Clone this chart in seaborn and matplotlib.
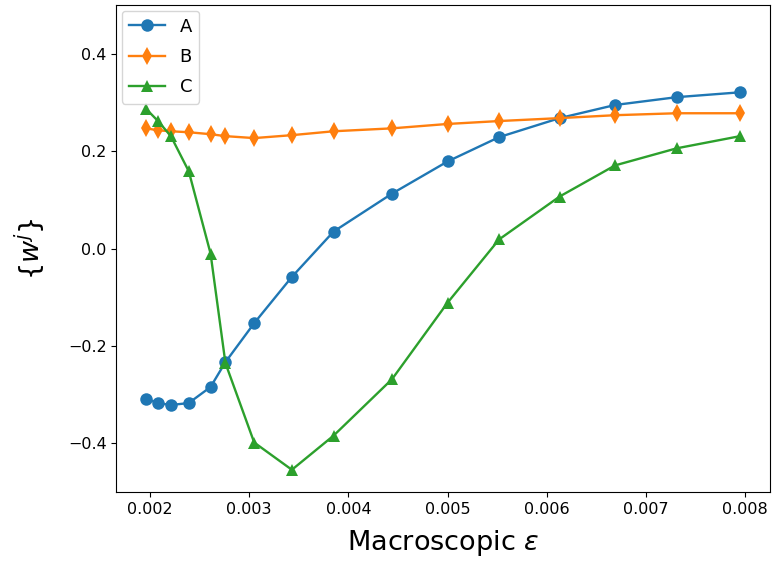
import numpy as np
import pandas as pd
import matplotlib
matplotlib.use("Agg")
import matplotlib.pyplot as plt
import seaborn as sns

# strain values (x)
eps = [0.00196, 0.00208, 0.00221, 0.00239, 0.00261, 0.00276, 0.00305, 0.00343,
       0.00385, 0.00444, 0.00500, 0.00552, 0.00613, 0.00669, 0.00731, 0.00795]

w_A = [-0.308, -0.317, -0.321, -0.317, -0.284, -0.233, -0.153, -0.058,
       0.035, 0.113, 0.179, 0.229, 0.268, 0.295, 0.311, 0.321]
w_B = [0.247, 0.243, 0.241, 0.239, 0.235, 0.231, 0.227, 0.233,
       0.241, 0.247, 0.256, 0.262, 0.268, 0.274, 0.278, 0.278]
w_C = [0.287, 0.262, 0.231, 0.159, -0.010, -0.235, -0.398, -0.454,
       -0.384, -0.268, -0.111, 0.019, 0.107, 0.171, 0.206, 0.231]

df = pd.DataFrame({
    "eps": eps * 3,
    "w": w_A + w_B + w_C,
    "series": ["A"] * len(eps) + ["B"] * len(eps) + ["C"] * len(eps),
})

fig, ax = plt.subplots(figsize=(7.76, 5.69), dpi=100)
sns.lineplot(data=df, x="eps", y="w", hue="series", style="series",
             markers={"A": "o", "B": "d", "C": "^"}, dashes=False,
             markersize=9, markeredgewidth=0, linewidth=1.7,
             palette=["C0", "C1", "C2"], ax=ax)

ax.set_ylim(-0.5, 0.5)
ax.set_yticks([-0.4, -0.2, 0.0, 0.2, 0.4])
ax.set_xticks([0.002, 0.003, 0.004, 0.005, 0.006, 0.007, 0.008])
ax.tick_params(labelsize=11.5)
ax.set_xlabel(r"Macroscopic $\epsilon$", fontsize=19.5, labelpad=8)
ax.set_ylabel(r"$\{w^j\}$", fontsize=19.5, labelpad=14)
ax.legend(loc="upper left", fontsize=13, title=None, labelspacing=0.68,
          borderaxespad=0.3, borderpad=0.4)

plt.subplots_adjust(left=0.15, right=0.992, top=0.991, bottom=0.135)
plt.savefig("out.png")
